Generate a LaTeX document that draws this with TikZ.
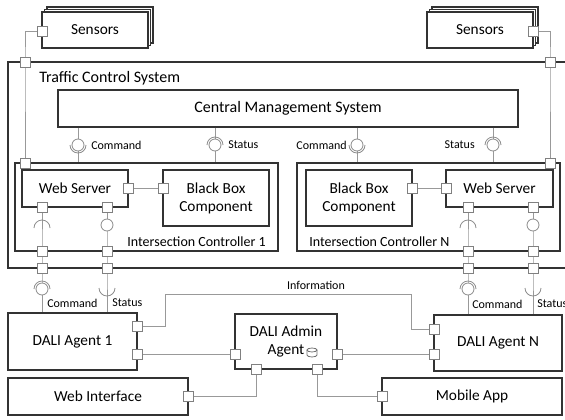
\documentclass[tikz,border=0pt]{standalone}
\usepackage{fontspec}
\setmainfont{Carlito}
\usetikzlibrary{calc}
\tikzset{
  box/.style={draw=black!80, line width=0.9pt, fill=white, inner sep=1pt, align=center, font=\fontsize{11.5}{13.5}\selectfont},
  conn/.style={draw=black!40, line width=0.7pt},
  port/.style={rectangle, draw=black!50, fill=white, line width=0.6pt, minimum size=7.5pt, inner sep=0pt},
  lbl/.style={font=\fontsize{9}{10}\selectfont, inner sep=0pt},
  biglbl/.style={font=\fontsize{10.5}{12}\selectfont, inner sep=0pt},
  iface/.style={draw=black!45, line width=0.6pt, fill=white},
  sock/.style={draw=black!45, line width=0.6pt},
}
\newcommand{\compbox}[7][]{%
  \node[box, #1, minimum width={(#5-#3)*0.75pt}, minimum height={(#6-#4)*0.75pt}] (#2) at ({(#3+#5)/2},{(#4+#6)/2}) {#7};}
\begin{document}
\begin{tikzpicture}[x=0.75pt, y=-0.75pt]
\useasboundingbox (0,0) rectangle (565,419);

% Sensors stacks
\compbox{sensLc}{47}{7}{153}{43}{}
\compbox{sensLb}{44.5}{9.5}{150.5}{45.5}{}
\compbox{sensL}{42}{12}{148}{48}{Sensors}
\compbox{sensRc}{432}{7}{538}{43}{}
\compbox{sensRb}{429.5}{9.5}{535.5}{45.5}{}
\compbox{sensR}{427}{12}{533}{48}{Sensors}

% Traffic control system
\compbox{tcs}{8}{62}{570}{268}{}
\node[biglbl, anchor=west, font=\fontsize{12}{14}\selectfont] (tcslbl) at (39,78) {Traffic Control System};
\compbox[font=\fontsize{12}{14}\selectfont]{cms}{58}{90}{518}{127}{Central Management System}

% Intersection controllers
\compbox{ic1}{15}{163}{278}{251}{}
\node[biglbl, anchor=east] (ic1lbl) at (266,242) {Intersection Controller 1};
\compbox{icN}{297}{163}{560}{251}{}
\node[biglbl, anchor=west] (icNlbl) at (309,242) {Intersection Controller N};
\compbox{ws1}{22}{170}{128}{207}{Web Server}
\compbox{bb1}{163}{170}{269}{226}{Black Box\\Component}
\compbox{bbN}{306}{170}{412}{226}{Black Box\\Component}
\compbox{wsN}{446}{170}{553}{207}{Web Server}

% DALI agents and clients
\compbox{a1}{8}{313}{137}{370}{DALI Agent 1}
\compbox{adm}{235}{314}{337}{369}{DALI Admin\\Agent}
\compbox{aN}{434}{315}{562}{371}{DALI Agent N}
\compbox{wi}{8}{378}{188}{415}{Web Interface}
\compbox{ma}{382}{378}{562}{415}{Mobile App}

% database icon
\draw[sock, draw=black!55] (307,350) -- (307,355) arc[start angle=180, end angle=0, x radius=5, y radius=2] -- (317,350);
\draw[sock, draw=black!55] (312,350) ellipse[x radius=5, y radius=2];

% interface coordinates
\coordinate (iC1) at (78,145);
\coordinate (iS1) at (215,145);
\coordinate (iCN) at (357,145);
\coordinate (iSN) at (493,145);
\coordinate (infoL) at (165,294);
\coordinate (infoR) at (411,294);

% ports (coordinates only; drawn later)
\foreach \n/\x/\y in {pSL/42/31, pSR/533/31, pTL/25/62, pTR/550/62, pI1/25/163, pIN/550/163,
  pW1r/128/188, pB1l/163/188, pW1a/42/207, pW1b/107/207, pI1a/42/251, pI1b/107/251,
  pTa/42/268, pTb/107/268, pBNr/412/188, pWNl/446/188, pWNa/468/207, pWNb/533/207,
  pINa/468/251, pINb/533/251, pTc/468/268, pTd/533/268,
  pA1i/137/326, pA1c/137/354, pADl/235/354, pADr/337/354, pADb1/256/369, pADb2/317/369,
  pANi/434/329, pANc/434/354, pWI/188/396, pMA/382/396}
  {\coordinate (\n) at (\x,\y);}

% connectors
\draw[conn] (pSL) -| (pTL) -- (pI1);
\draw[conn] (pSR) -| (pTR) -- (pIN);
\draw[conn] (pW1r) -- (pB1l);
\draw[conn] (pBNr) -- (pWNl);
\draw[conn] (cms.south -| iC1) -- (ic1.north -| iC1);
\draw[conn] (cms.south -| iS1) -- (ic1.north -| iS1);
\draw[conn] (cms.south -| iCN) -- (icN.north -| iCN);
\draw[conn] (cms.south -| iSN) -- (icN.north -| iSN);
\draw[conn] (pW1a) -- (pI1a) -- (pTa) -- (a1.north -| pTa);
\draw[conn] (pW1b) -- (pI1b) -- (pTb) -- (a1.north -| pTb);
\draw[conn] (pWNa) -- (pINa) -- (pTc) -- (aN.north -| pTc);
\draw[conn] (pWNb) -- (pINb) -- (pTd) -- (aN.north -| pTd);
\draw[conn] (pA1i) -| (infoL) -- (infoR) |- (pANi);
\node[lbl, anchor=south] (infolbl) at (316,290) {Information};
\draw[conn] (pA1c) -- (pADl);
\draw[conn] (pADr) -- (pANc);
\draw[conn] (pWI) -| (pADb1);
\draw[conn] (pADb2) |- (pMA);

% interfaces: CMS to controllers
\foreach \c in {iC1, iCN} {
  \draw[iface] (\c) circle[radius=6];
  \draw[sock] ($(\c)+(8,0)$) arc[start angle=0, end angle=180, radius=8];
}
\foreach \c in {iS1, iSN} {
  \draw[iface] (\c) circle[radius=6];
  \draw[sock] ($(\c)+(-8,0)$) arc[start angle=180, end angle=360, radius=8];
}
% inside controllers
\foreach \x in {42, 468} {
  \draw[sock] (\x-8,228) arc[start angle=180, end angle=360, radius=8];
}
\foreach \x in {107, 533} {
  \draw[iface] (\x,225) circle[radius=6];
}
% below controllers
\foreach \x in {42, 468} {
  \draw[iface] (\x,289) circle[radius=6];
  \draw[sock] (\x-8,289) arc[start angle=180, end angle=360, radius=8];
}
\foreach \x in {107, 533} {
  \draw[sock] (\x-8,288) arc[start angle=180, end angle=0, radius=8];
}

% interface labels
\node[lbl, anchor=west] (l1) at (91,145) {Command};
\node[lbl, anchor=west] (l2) at (228,145) {Status};
\node[lbl, anchor=east] (l3) at (347,145) {Command};
\node[lbl, anchor=east] (l4) at (475,145) {Status};
\node[lbl, anchor=west] (l5) at (47,303) {Command};
\node[lbl, anchor=west] (l6) at (112,303) {Status};
\node[lbl, anchor=west] (l7) at (472,304) {Command};
\node[lbl, anchor=west] (l8) at (537,304) {Status};

% port squares
\foreach \n in {pSL, pSR, pTL, pTR, pI1, pIN, pW1r, pB1l, pW1a, pW1b, pI1a, pI1b,
  pTa, pTb, pBNr, pWNl, pWNa, pWNb, pINa, pINb, pTc, pTd,
  pA1i, pA1c, pADl, pADr, pADb1, pADb2, pANi, pANc, pWI, pMA}
  {\node[port] (\n sq) at (\n) {};}
\end{tikzpicture}
\end{document}
